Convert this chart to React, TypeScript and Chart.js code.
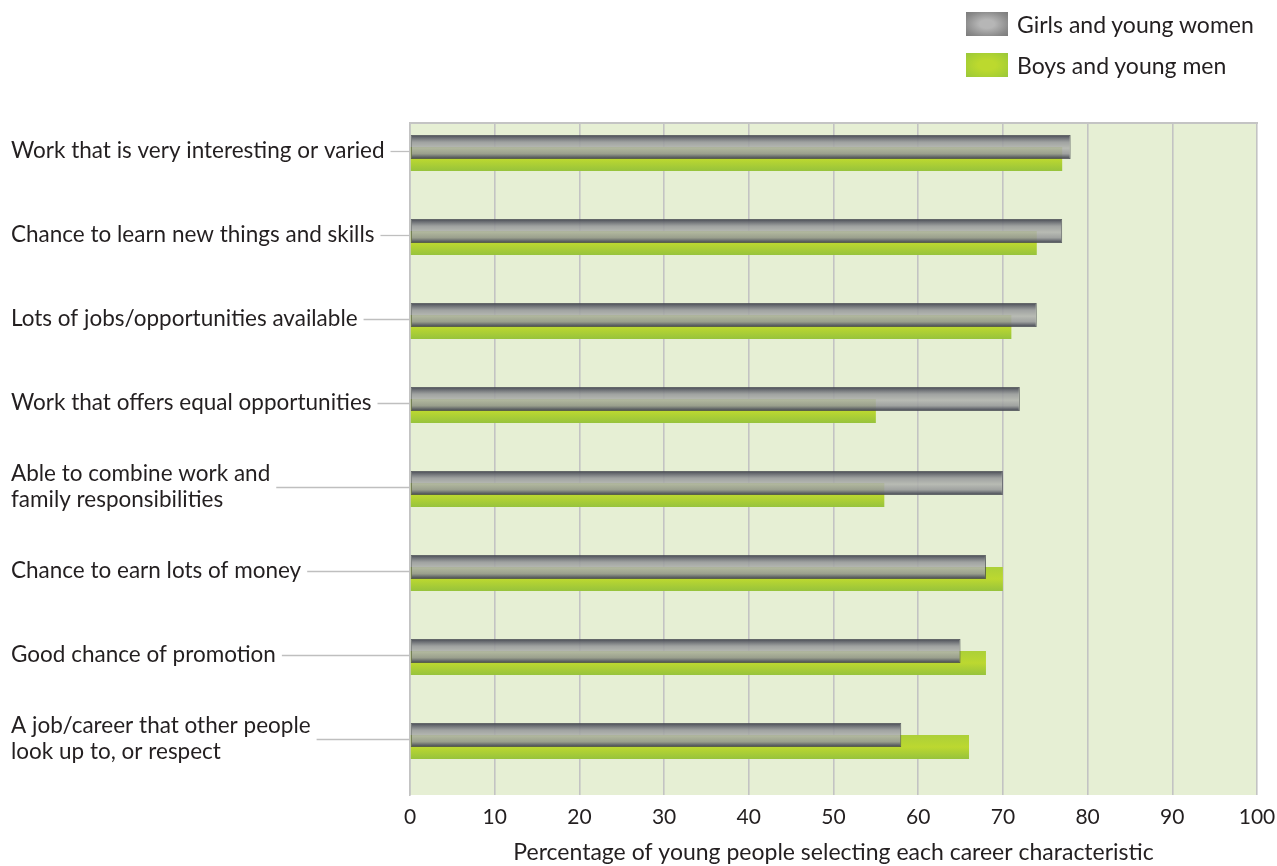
import React, { useEffect, useRef } from 'react';
import { Chart, registerables } from 'chart.js';

Chart.register(...registerables);

// ---------- data ----------
const categories: (string | string[])[] = [
  'Work that is very interesting or varied',
  'Chance to learn new things and skills',
  'Lots of jobs/opportunities available',
  'Work that offers equal opportunities',
  ['Able to combine work and', 'family responsibilities'],
  'Chance to earn lots of money',
  'Good chance of promotion',
  ['A job/career that other people', 'look up to, or respect'],
];
const girlsValues = [78, 77, 74, 72, 70, 68, 65, 58];
const boysValues = [77, 74, 71, 55, 56, 70, 68, 66];
const seriesNames = ['Girls and young women', 'Boys and young men'];
const xTickValues = [0, 10, 20, 30, 40, 50, 60, 70, 80, 90, 100];
const xAxisTitle = 'Percentage of young people selecting each career characteristic';

// ---------- style ----------
const W = 1277;
const H = 866;
const CAT_PCT = 48 / 84;
const BAR_PCT = 2;
const SLOTS = 4;
const LABEL_OFFSET = -14;
const TEXT = '#231f20';
const FONT = 'Lato';
const LABEL_SIZE = 22.5;

const GRAY_STOPS: [number, string][] = [
  [0, 'rgba(66,69,78,0.98)'],
  [0.1, 'rgba(96,99,106,0.95)'],
  [0.3, 'rgba(150,152,154,0.88)'],
  [0.55, 'rgba(176,178,174,0.86)'],
  [0.78, 'rgba(150,152,153,0.88)'],
  [0.9, 'rgba(100,103,110,0.95)'],
  [1, 'rgba(64,67,76,0.98)'],
];
const GREEN_STOPS: [number, string][] = [
  [0, '#acd038'],
  [0.5, '#bcd830'],
  [1, '#97c33c'],
];

function barGradient(ctx: any, slot: number, stops: [number, string][]) {
  const chart = ctx.chart;
  const y = chart.scales && chart.scales.y;
  const fallback = stops[Math.floor(stops.length / 2)][1];
  if (!y || ctx.dataIndex === undefined) return fallback;
  const catW = (y.bottom - y.top) / categories.length;
  const chunk = (catW * CAT_PCT) / SLOTS;
  const thick = chunk * BAR_PCT;
  const c = y.getPixelForValue(ctx.dataIndex);
  const center = c - (catW * CAT_PCT) / 2 + chunk * (slot + 0.5);
  const y0 = center - thick / 2;
  const y1 = center + thick / 2;
  if (!isFinite(y0) || !isFinite(y1) || y1 <= y0) return fallback;
  const g = chart.ctx.createLinearGradient(0, y0, 0, y1);
  stops.forEach(([o, col]) => g.addColorStop(o, col));
  return g;
}

const backgroundPlugin = {
  id: 'plotBackground',
  beforeDraw(chart: any) {
    const { ctx, chartArea: a } = chart;
    ctx.save();
    ctx.fillStyle = '#e6efd4';
    ctx.fillRect(a.left, a.top, a.right - a.left, a.bottom - a.top);
    ctx.restore();
  },
  beforeDatasetsDraw(chart: any) {
    const { ctx, chartArea: a } = chart;
    ctx.save();
    ctx.strokeStyle = '#c4c4c4';
    ctx.lineWidth = 2;
    ctx.beginPath();
    ctx.moveTo(a.left - 1, a.top);
    ctx.lineTo(a.right + 1, a.top);
    ctx.stroke();
    // leader lines from labels to the axis
    const y = chart.scales.y;
    ctx.font = `${LABEL_SIZE}px ${FONT}`;
    ctx.strokeStyle = '#bfbfbf';
    ctx.lineWidth = 1.3;
    categories.forEach((lab, i) => {
      const lines = Array.isArray(lab) ? lab : [lab];
      const wMax = Math.max(...lines.map((l) => ctx.measureText(l).width));
      const py = Math.round(y.getPixelForValue(i) + LABEL_OFFSET) + 0.5;
      ctx.beginPath();
      ctx.moveTo(y.left + wMax + 6, py);
      ctx.lineTo(a.left, py);
      ctx.stroke();
    });
    ctx.restore();
  },
};

export default function App() {
  const ref = useRef<HTMLCanvasElement | null>(null);

  useEffect(() => {
    if (!ref.current) return;
    const dummy = categories.map(() => null);
    const chart = new Chart(ref.current, {
      type: 'bar',
      data: {
        labels: categories as any,
        datasets: [
          {
            label: seriesNames[0],
            data: girlsValues,
            backgroundColor: (ctx: any) => barGradient(ctx, 0, GRAY_STOPS),
            borderColor: 'rgba(66,69,78,0.8)',
            borderWidth: 1,
            borderSkipped: false,
          },
          {
            label: seriesNames[1],
            data: boysValues,
            backgroundColor: (ctx: any) => barGradient(ctx, 1, GREEN_STOPS),
            borderWidth: 0,
          },
          { label: '', data: dummy as any },
          { label: '', data: dummy as any },
        ],
      },
      options: {
        indexAxis: 'y',
        responsive: false,
        animation: false,
        devicePixelRatio: 1,
        events: [],
        datasets: {
          bar: { categoryPercentage: CAT_PCT, barPercentage: BAR_PCT },
        },
        layout: { padding: { left: 11, top: 123, right: 20, bottom: 0 } },
        plugins: {
          legend: { display: false },
          tooltip: { enabled: false },
        },
        scales: {
          x: {
            type: 'linear',
            min: 0,
            max: 100,
            afterBuildTicks: (s: any) => {
              s.ticks = xTickValues.map((v) => ({ value: v }));
            },
            afterFit: (s: any) => {
              s.height = 71;
              s.paddingRight = 0;
              s.paddingLeft = 0;
            },
            grid: { color: '#c3c3c3', lineWidth: 1.6, drawTicks: false },
            border: { display: false },
            ticks: {
              padding: 10,
              color: TEXT,
              font: { family: FONT, size: 21 },
            },
            title: {
              display: true,
              text: xAxisTitle,
              color: TEXT,
              font: { family: FONT, size: 23 },
              padding: { top: 4, bottom: 0 },
            },
          },
          y: {
            type: 'category',
            afterFit: (s: any) => {
              s.width = 399;
            },
            grid: { display: false },
            border: { display: true, color: '#c3c3c3', width: 1.6 },
            ticks: {
              crossAlign: 'far',
              labelOffset: LABEL_OFFSET,
              color: TEXT,
              font: { family: FONT, size: LABEL_SIZE, lineHeight: 1.16 },
            },
          },
        },
      },
      plugins: [backgroundPlugin],
    } as any);
    return () => chart.destroy();
  }, []);

  const legendBox = (bg: string): React.CSSProperties => ({
    position: 'absolute',
    left: 966,
    width: 42,
    height: 24,
    background: bg,
  });
  const legendText: React.CSSProperties = {
    position: 'absolute',
    left: 1017,
    fontFamily: FONT,
    fontSize: 23,
    lineHeight: '24px',
    color: TEXT,
    whiteSpace: 'nowrap',
  };

  return (
    <div style={{ position: 'fixed', left: 0, top: 0, width: W, height: H, overflow: 'hidden', background: '#fff' }}>
      <canvas ref={ref} width={W} height={H} style={{ position: 'absolute', left: 0, top: 0, width: W, height: H }} />
      <div style={{ ...legendBox('radial-gradient(ellipse at center, #b6b6b6 25%, #8a8a8a 75%, #7a7a7a 100%)'), top: 12 }} />
      <div style={{ ...legendText, top: 12 }}>{seriesNames[0]}</div>
      <div style={{ ...legendBox('radial-gradient(ellipse at center, #bcd92e 30%, #a9d033 70%, #99c73b 100%)'), top: 53 }} />
      <div style={{ ...legendText, top: 53 }}>{seriesNames[1]}</div>
    </div>
  );
}
